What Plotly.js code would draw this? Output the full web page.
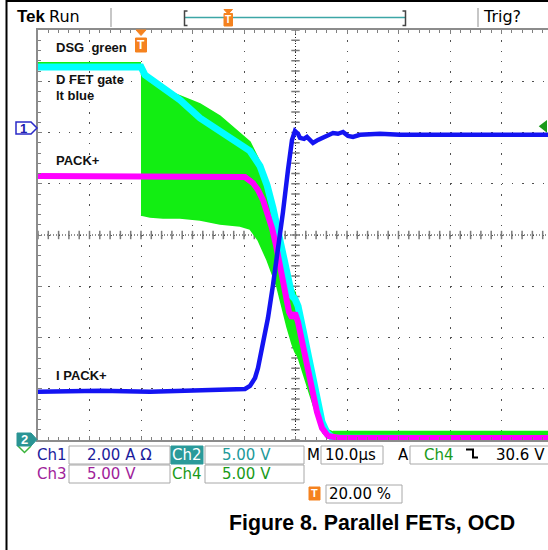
<!DOCTYPE html>
<html><head><meta charset="utf-8">
<script src="https://cdn.plot.ly/plotly-3.0.1.min.js"></script>
<style>html,body{margin:0;padding:0;background:#fff;overflow:hidden}#chart{width:548px;height:550px}</style>
</head><body><div id="chart"></div>
<script>
// ---- Scope settings (from the readout) ----
const timePerDiv = 10;          // µs/div
const triggerPos = 20;          // % of record
const ch1Scale = 2;  const ch1Offset = 2.09;   // A/div, ground marker position (div)
const vScale = 5;    const vOffset = -4;       // V/div for Ch2..Ch4, ground (div)
const trigLevelV = 30.6;
const readCh1 = '2.00 A \u03A9';
const readCh2 = '5.00 V', readCh3 = '5.00 V', readCh4 = '5.00 V';
const readTime = '10.0\u00B5s';
const readTrig = '30.6 V';
const readTrigPos = '20.00 %';

// ---- Ch1: I PACK+ (A) ----
const ch1Time = [-20, -7.96, 1.75, 11.46, 19.22, 20.19, 21.17, 22.14, 22.72, 23.69, 24.66, 25.63, 26.60, 27.57, 28.54, 29.32, 29.90, 30.49, 30.87, 31.65, 32.23, 32.82, 33.40, 34.37, 35.34, 36.31, 37.28, 38.25, 39.22, 40.19, 41.17, 42.52, 46.41, 50.29, 60.0, 69.71, 79.03];
const ch1Amps = [-10.30, -10.26, -10.30, -10.26, -10.22, -10.19, -10.07, -9.76, -9.37, -8.47, -7.41, -6.13, -4.76, -3.28, -1.64, -0.47, -0.12, -0.23, -0.39, -0.43, -0.35, -0.47, -0.59, -0.47, -0.39, -0.31, -0.20, -0.23, -0.16, -0.31, -0.35, -0.27, -0.23, -0.27, -0.27, -0.27, -0.27];

// ---- Ch2: D FET gate, lt blue (V) ----
const ch2Time = [-20, 0, 0.78, 4.27, 7.57, 11.46, 15.34, 19.22, 21.17, 23.11, 24.47, 25.63, 26.99, 28.35, 29.32, 29.90, 30.49, 31.46, 32.43, 33.40, 34.37, 35.15, 36.12, 37.28, 79.03];
const ch2Volts = [36.39, 36.39, 35.61, 34.44, 33.17, 31.41, 30.15, 28.98, 28.20, 26.73, 24.88, 22.63, 19.71, 16.49, 14.05, 13.76, 13.07, 10.73, 8.29, 5.66, 3.41, 1.76, 0.68, 0.20, 0.10];

// ---- Ch3: PACK+ (V) ----
const ch3Time = [-20, 0, 18.64, 20.19, 21.75, 22.72, 23.69, 24.66, 25.44, 26.21, 26.99, 27.96, 28.74, 29.32, 29.90, 30.49, 31.26, 32.23, 33.20, 34.17, 35.15, 36.31, 38.64, 79.03];
const ch3Volts = [25.76, 25.76, 25.76, 25.66, 25.07, 24.39, 23.41, 22.05, 20.68, 19.02, 17.07, 14.63, 12.49, 11.90, 12.39, 11.51, 9.76, 7.32, 4.88, 2.73, 1.17, 0.39, 0.20, 0.20];

// ---- Ch4: DSG, green (V) ----
const ch4PreTime = [-20, 0];
const ch4PreVolts = [36.68, 36.68];
const ch4EnvTime = [0, 1.75, 4.27, 7.57, 11.46, 15.34, 19.22, 21.17, 22.72, 24.47, 26.41, 28.35, 29.32, 29.90, 30.49, 31.46, 32.82, 34.37, 35.34, 36.31, 37.28];
const ch4EnvHigh = [35.71, 34.93, 34.24, 33.56, 32.78, 31.61, 29.95, 29.07, 27.51, 25.17, 21.66, 17.07, 14.83, 14.44, 13.17, 9.27, 6.63, 3.90, 1.95, 0.98, 0.78];
const ch4EnvLow = [21.95, 21.76, 21.66, 21.66, 21.46, 21.07, 20.88, 20.59, 19.51, 17.56, 14.93, 11.02, 9.37, 8.59, 8.10, 6.63, 4.39, 1.95, 0.68, 0.20, 0.0];
const ch4PostTime = [37.28, 79.03];
const ch4PostVolts = [0.6, 0.6];

// ---- Labels ----
const traceLabels = ['DSG\u00a0 green', 'D FET gate', 'lt blue', 'PACK+', 'I PACK+'];

// ---- conversions to screen divisions ----
const ampDiv = a => a / ch1Scale + ch1Offset;
const voltDiv = v => v / vScale + vOffset;

// pixel -> paper helpers (plot area 38..548 x 30..440)
const L = 38, T = 30, W = 510, H = 410;
const X = px => (px - L) / W;
const Y = py => (T + H - py) / H;

const GREEN = '#12ee12', CYAN = '#00ffff', MAG = '#ff00ff', BLUE = '#1414f2';
const ORANGE = '#f5821f';

// graticule center-line ticks
const gx = [], gy = [];
for (let k = 0; k <= 50; k++) gx.push(-20 + 2 * k);
for (let k = 0; k <= 40; k++) gy.push(-4 + 0.2 * k);
const centerT = -20 + 5 * timePerDiv;

const envX = ch4EnvTime.concat(ch4EnvTime.slice().reverse());
const envY = ch4EnvHigh.map(voltDiv).concat(ch4EnvLow.slice().reverse().map(voltDiv));

const traces = [
  {x: gx, y: gx.map(() => 0), mode: 'markers', hoverinfo: 'skip',
   marker: {symbol: 'line-ns', size: 6, line: {color: '#7a7a7a', width: 1.5}}},
  {x: gy.map(() => centerT), y: gy, mode: 'markers', hoverinfo: 'skip',
   marker: {symbol: 'line-ew', size: 6, line: {color: '#7a7a7a', width: 1.5}}},
  // Ch4 green
  {x: ch4PreTime, y: ch4PreVolts.map(voltDiv), mode: 'lines', line: {color: GREEN, width: 4}},
  {x: envX, y: envY, mode: 'lines', fill: 'toself', fillcolor: GREEN, line: {color: GREEN, width: 1.5}},
  {x: ch4PostTime, y: ch4PostVolts.map(voltDiv), mode: 'lines', line: {color: GREEN, width: 6}},
  // Ch2 cyan
  {x: ch2Time, y: ch2Volts.map(voltDiv), mode: 'lines', line: {color: CYAN, width: 7}},
  // Ch3 magenta
  {x: ch3Time, y: ch3Volts.map(voltDiv), mode: 'lines', line: {color: MAG, width: 6}},
  // Ch1 blue
  {x: ch1Time, y: ch1Amps.map(ampDiv), mode: 'lines', line: {color: BLUE, width: 4.5}},
  // trigger level marker
  {x: [78.3], y: [voltDiv(trigLevelV)], mode: 'markers', cliponaxis: false, hoverinfo: 'skip',
   marker: {symbol: 'triangle-left', size: 11, color: '#1a9a1a'}}
];
traces.forEach(t => { t.showlegend = false; if (!t.hoverinfo) t.hoverinfo = 'skip'; });

const shapes = [];
const ann = [];
function line(x0, y0, x1, y1, color, width, extra) {
  shapes.push(Object.assign({type: 'line', xref: 'paper', yref: 'paper', x0: X(x0), y0: Y(y0), x1: X(x1), y1: Y(y1), line: {color, width}}, extra || {}));
}
function rect(x0, y0, x1, y1, fill, lineColor, lw) {
  shapes.push({type: 'rect', xref: 'paper', yref: 'paper', x0: X(x0), y0: Y(y0), x1: X(x1), y1: Y(y1),
    fillcolor: fill, line: {color: lineColor || fill, width: lw === undefined ? 1 : lw}});
}
function path(pts, fill, lineColor, lw, close) {
  let d = pts.map((p, i) => (i ? 'L' : 'M') + X(p[0]) + ',' + Y(p[1])).join(' ') + (close ? ' Z' : '');
  shapes.push({type: 'path', xref: 'paper', yref: 'paper', path: d, fillcolor: fill || 'rgba(0,0,0,0)', line: {color: lineColor, width: lw}});
}
function text(t, px, py, size, color, family, anchor, bold) {
  ann.push({text: bold ? '<b>' + t + '</b>' : t, xref: 'paper', yref: 'paper', x: X(px), y: Y(py),
    xanchor: anchor || 'left', yanchor: 'middle', showarrow: false, borderpad: 0, borderwidth: 0,
    font: {size, color, family}});
}

// center dotted lines
shapes.push({type: 'line', xref: 'x', yref: 'y', x0: -20, x1: 80, y0: 0, y1: 0, layer: 'between', line: {color: '#222', width: 1, dash: '1px,2px'}});
shapes.push({type: 'line', xref: 'x', yref: 'y', x0: centerT, x1: centerT, y0: -4, y1: 4, layer: 'between', line: {color: '#222', width: 1, dash: '1px,2px'}});

// document frame
line(6, 1, 548, 1, '#000', 2);
line(6.5, 0, 6.5, 550, '#000', 2);

// header
const SANS = 'DejaVu Sans';
text('Tek', 17, 17, 17, '#000', 'Liberation Sans', 'left', true);
text('Run', 49, 17, 16, '#000', SANS);
text('Trig?', 483, 17, 16, '#000', SANS);
line(111, 8, 111, 27, '#b4b4b4', 1.5);
line(478, 8, 478, 27, '#b4b4b4', 1.5);
line(185, 17.5, 405, 17.5, '#3ca6a6', 1.5);
path([[187.5, 11], [184.5, 11], [184.5, 25.5], [187.5, 25.5]], null, '#444', 1.5);
path([[402.5, 11], [405.5, 11], [405.5, 25.5], [402.5, 25.5]], null, '#444', 1.5);
path([[224, 9.5], [232.5, 9.5], [228.2, 14]], ORANGE, ORANGE, 1, true);
rect(224, 13.5, 232.5, 26, ORANGE);
text('T', 228.3, 20, 10, '#fff', 'Liberation Sans', 'center', true);

// trigger position marker in plot
path([[136, 30], [146, 30], [141, 35.5]], ORANGE, ORANGE, 1, true);
rect(135.5, 38, 146.5, 52, ORANGE);
text('T', 141, 45, 12, '#fff', 'Liberation Sans', 'center', true);

// channel ground markers
path([[16, 122], [31, 122], [37, 128], [31, 134], [16, 134]], '#fff', '#2a2ac8', 1.5, true);
text('1', 23, 128, 13, '#2020b0', 'Liberation Sans', 'center', true);
path([[18, 446], [24.5, 452.5], [31, 446]], null, '#3cb43c', 1.5);
path([[17, 433], [31, 433], [37, 439.5], [31, 446], [17, 446]], '#2a9494', '#2a9494', 1, true);
text('2', 24, 439.5, 13, '#fff', 'Liberation Sans', 'center', true);

// in-plot labels
const LBL = 'Liberation Sans';
text(traceLabels[0], 56, 47, 13, '#111', LBL, 'left', true);
text(traceLabels[1], 56, 79, 13, '#111', LBL, 'left', true);
text(traceLabels[2], 56, 95, 13, '#111', LBL, 'left', true);
text(traceLabels[3], 56, 161, 13, '#111', LBL, 'left', true);
text(traceLabels[4], 56, 375, 13, '#111', LBL, 'left', true);

// readout panel
const C1 = '#1c1c9c', C2 = '#229a9a', C3 = '#a0229a', C4 = '#1a9a1a', BOX = '#a8a8a8';
rect(69, 446, 170, 464, '#fff', BOX, 1);
rect(171, 446, 203, 464, '#2a9a9a', '#2a9a9a', 1);
rect(205, 446, 304, 464, '#fff', BOX, 1);
rect(321, 446, 383, 464, '#fff', BOX, 1);
rect(410, 446, 570, 464, '#fff', BOX, 1);
rect(69, 465, 170, 483, '#fff', BOX, 1);
rect(205, 465, 304, 483, '#fff', BOX, 1);
rect(326, 485, 402, 503, '#fff', BOX, 1);
rect(309, 487, 320, 500, ORANGE);
text('T', 314.5, 493.5, 11, '#fff', 'Liberation Sans', 'center', true);

text('Ch1', 37, 455, 15, C1, SANS);
text(readCh1, 87, 455, 15, C1, SANS);
text('Ch2', 172, 455, 15, '#fff', SANS);
text(readCh2, 222, 455, 15, C2, SANS);
text('M', 307, 455, 15, '#000', SANS);
text(readTime, 325, 455, 15, '#000', SANS);
text('A', 398, 455, 15, '#000', SANS);
text('Ch4', 424, 455, 15, C4, SANS);
path([[466, 449.5], [473, 449.5], [473, 457.5], [478, 457.5]], null, '#000', 2);
text(readTrig, 496, 455, 15, '#000', SANS);
text('Ch3', 37, 474, 15, C3, SANS);
text(readCh3, 87, 474, 15, C3, SANS);
text('Ch4', 172, 474, 15, C4, SANS);
text(readCh4, 222, 474, 15, C4, SANS);
text(readTrigPos, 329, 494, 15, '#000', SANS);

// caption
text('Figure 8. Parallel FETs, OCD', 372, 523, 21.3, '#000', 'Liberation Sans', 'center', true);

const axisCommon = {
  showticklabels: false, ticks: 'inside', ticklen: 4, tickwidth: 1, tickcolor: '#808080',
  showline: true, linecolor: '#8c8c8c', linewidth: 2, zeroline: false, fixedrange: true,
  showgrid: true, gridcolor: '#505050', gridwidth: 1
};

const layout = {
  width: 548, height: 550, autosize: false,
  margin: {l: 38, r: 0, t: 30, b: 110, pad: 0},
  paper_bgcolor: '#fff', plot_bgcolor: '#fff',
  showlegend: false,
  xaxis: Object.assign({}, axisCommon, {range: [-20, 79.03], tick0: -20, dtick: timePerDiv, mirror: 'ticks',
    griddash: '1.5px,8.75px',
    minor: {dtick: 2, tick0: -20, ticks: 'inside', ticklen: 3, tickcolor: '#808080', showgrid: false}}),
  yaxis: Object.assign({}, axisCommon, {range: [-4, 4], tick0: -4, dtick: 1, mirror: false,
    griddash: '1.5px,8.8px',
    minor: {dtick: 0.2, tick0: -4, ticks: 'inside', ticklen: 3, tickcolor: '#808080', showgrid: false}}),
  shapes: shapes,
  annotations: ann
};

Plotly.newPlot('chart', traces, layout, {staticPlot: true, displayModeBar: false});
</script>
</body></html>
